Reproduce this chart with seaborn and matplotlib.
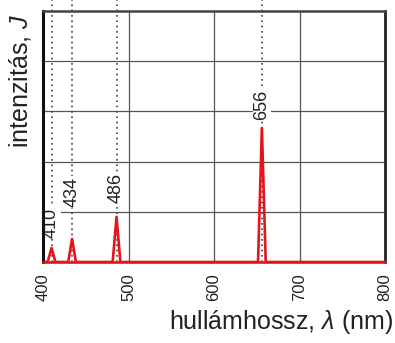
import matplotlib
matplotlib.use("Agg")
import matplotlib.pyplot as plt
import seaborn as sns
import pandas as pd

# --- data ---
wavelengths = [410, 434, 486, 656]          # nm, line positions
peak_heights = [0.28, 0.46, 0.90, 2.67]     # intensity (grid units)
peak_labels = ["410", "434", "486", "656"]
x_ticks = [400, 500, 600, 700, 800]
x_tick_labels = ["400", "500", "600", "700", "800"]

# --- layout / style ---
half_width = 4.5                              # nm, half base width of each line
label_bottoms = [0.48, 1.10, 1.18, 2.83]      # where each label starts
red = "#e4141c"

sns.set_theme(style="white")
plt.rcParams["font.family"] = ["Liberation Sans", "DejaVu Sans"]
plt.rcParams["mathtext.fontset"] = "custom"
plt.rcParams["mathtext.rm"] = "Liberation Sans"
plt.rcParams["mathtext.it"] = "Liberation Sans:italic"

# build the spectrum polyline from the peaks
xs, ys = [x_ticks[0]], [0.0]
for c, h in zip(wavelengths, peak_heights):
    xs += [c - half_width, c, c + half_width]
    ys += [0.0, h, 0.0]
xs.append(x_ticks[-1]); ys.append(0.0)
df = pd.DataFrame({"wavelength": xs, "intensity": ys})

fig = plt.figure(figsize=(3.95, 3.43), dpi=100)
ax = fig.add_axes([43/395, 81/343, 342/395, 251/343])

ax.set_xlim(400, 800)
ax.set_ylim(0, 5)

# grid
for gx in x_ticks[1:-1]:
    ax.axvline(gx, color="#555555", lw=0.9, zorder=1)
for gy in [1, 2, 3, 4]:
    ax.axhline(gy, color="#555555", lw=0.9, zorder=1)

# dotted reference lines extending above the axes
for c in wavelengths:
    ax.axvline(c, ymin=0, ymax=1.045, color="#444444", lw=1.2,
               linestyle=(0, (1, 2.2)), clip_on=False, zorder=2)

sns.lineplot(data=df, x="wavelength", y="intensity", ax=ax, color=red,
             lw=1.9, estimator=None, sort=False, zorder=4)

for c, yb, lab in zip(wavelengths, label_bottoms, peak_labels):
    ax.text(c, yb, lab, rotation=90, ha="center", va="bottom", fontsize=13,
            color="#222222", zorder=5,
            bbox=dict(facecolor="white", edgecolor="none", pad=0.5))

ax.set_xticks(x_ticks)
ax.set_xticklabels(x_tick_labels, rotation=90, fontsize=12, color="#222222")
ax.set_yticks([])
ax.tick_params(axis="x", length=0, pad=8)

ax.set_xlabel(r"hullámhossz, $\lambda$ (nm)", fontsize=18, color="#222222")
ax.set_ylabel(r"intenzitás, $J$", fontsize=18, color="#222222")
ax.xaxis.set_label_coords(0.696, -0.185)
ax.yaxis.set_label_coords(-0.03, 0.72)

for side, sp in ax.spines.items():
    sp.set_visible(True)
    sp.set_zorder(6)
ax.spines["left"].set_color("#111111"); ax.spines["left"].set_linewidth(2.2)
ax.spines["right"].set_color("#222222"); ax.spines["right"].set_linewidth(2.0)
ax.spines["top"].set_color("#444444"); ax.spines["top"].set_linewidth(1.8)
ax.spines["bottom"].set_color(red); ax.spines["bottom"].set_linewidth(1.9)

fig.savefig("out.png", dpi=100)
